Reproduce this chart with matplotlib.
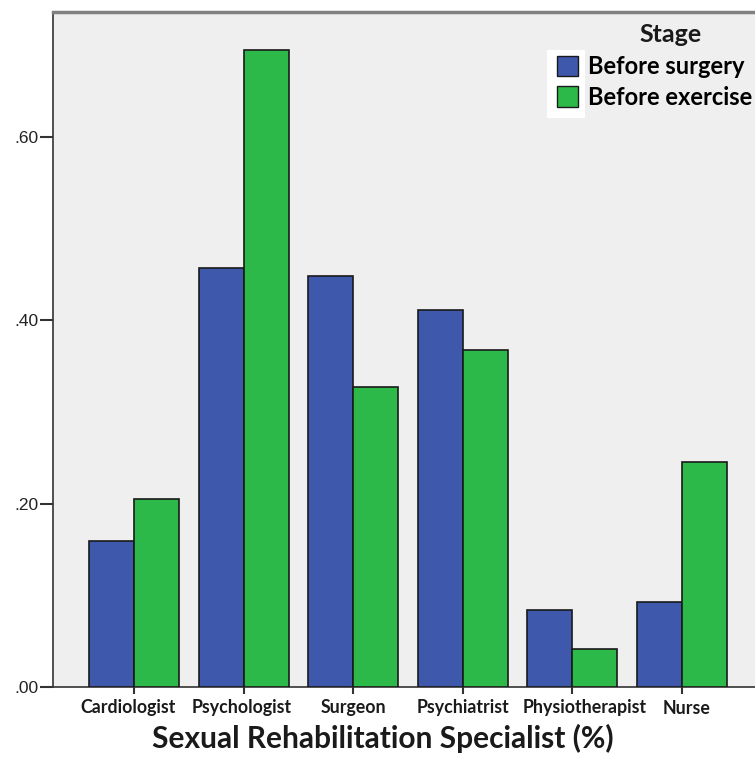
import matplotlib
matplotlib.use("Agg")
import matplotlib.pyplot as plt
from matplotlib.patches import Patch, Rectangle
import matplotlib.transforms as mtransforms
import numpy as np

categories = ["Cardiologist", "Psychologist", "Surgeon", "Psychiatrist", "Physiotherapist", "Nurse"]
before_surgery = [0.159, 0.457, 0.448, 0.411, 0.084, 0.093]
before_exercise = [0.205, 0.694, 0.327, 0.367, 0.041, 0.245]
series_names = ["Before surgery", "Before exercise"]
legend_title = "Stage"
x_label = "Sexual Rehabilitation Specialist (%)"
y_ticks = [0.0, 0.2, 0.4, 0.6]
y_tick_labels = [".00", ".20", ".40", ".60"]

W, H = 755, 765
fig = plt.figure(figsize=(W / 100, H / 100), dpi=100)
ax = fig.add_axes([53 / W, 1 - 687 / H, (755 - 53) / W, (687 - 12) / H])
ax.set_facecolor("#efefef")

blue = "#3e58ac"
green = "#2db84a"
bw = 0.41
x = np.arange(len(categories))
ax.bar(x - bw / 2, before_surgery, width=bw, color=blue, edgecolor="#1a1a1a", linewidth=1.2, zorder=3)
ax.bar(x + bw / 2, before_exercise, width=bw, color=green, edgecolor="#1a1a1a", linewidth=1.2, zorder=3)

ax.set_xlim(-0.739, 5.666)
ax.set_ylim(0, 0.7357)
ax.set_yticks(y_ticks)
ax.set_yticklabels(y_tick_labels, family="Liberation Sans", fontsize=12.5, color="#222222")
ax.set_xticks(x)
ax.set_xticklabels(categories, family="Lato", fontweight="bold", fontsize=12.8, color="#1a1a1a")
ax.tick_params(axis="x", direction="out", length=5, width=1.5, color="#333333", pad=4)
ax.tick_params(axis="y", direction="out", length=9.5, width=1.5, color="#333333", pad=1)

# small horizontal nudges of x tick labels (pixels), as in the original layout
label_nudge_px = [-6, -2, 0, 0, 12, 5]
for lab, dx in zip(ax.get_xticklabels(), label_nudge_px):
    lab.set_transform(lab.get_transform() + mtransforms.ScaledTranslation(dx / 100, 0, fig.dpi_scale_trans))

ax.spines["right"].set_visible(False)
ax.spines["top"].set_color("#808080")
ax.spines["top"].set_linewidth(2.5)
ax.spines["left"].set_color("#333333")
ax.spines["left"].set_linewidth(1.2)
ax.spines["bottom"].set_color("#333333")
ax.spines["bottom"].set_linewidth(1.2)

fig.text(383 / W, 1 - 738 / H, x_label, family="Lato",
         fontweight="bold", fontsize=21.5, ha="center", va="center", color="#1a1a1a")

# legend
rect = Rectangle((547 / W, 1 - 118 / H), 38 / W, 68 / H, transform=fig.transFigure,
                 facecolor="white", edgecolor="none", zorder=1)
fig.add_artist(rect)
fig.text(671 / W, 1 - 35 / H, legend_title, family="Lato", fontweight="bold",
         fontsize=18, ha="center", va="center", color="#1a1a1a", zorder=3)
handles = [Patch(facecolor=blue, edgecolor="#1a1a1a", label=series_names[0]),
           Patch(facecolor=green, edgecolor="#1a1a1a", label=series_names[1])]
leg = fig.legend(handles=handles, loc="upper left",
                 bbox_to_anchor=(557 / W, 1 - 55 / H), frameon=False,
                 prop={"family": "Lato", "weight": "bold", "size": 17},
                 handlelength=0.9, handleheight=0.95, handletextpad=0.4,
                 labelspacing=0.32, borderpad=0, borderaxespad=0)
leg.set_zorder(2)

fig.savefig("out.png", dpi=100)
